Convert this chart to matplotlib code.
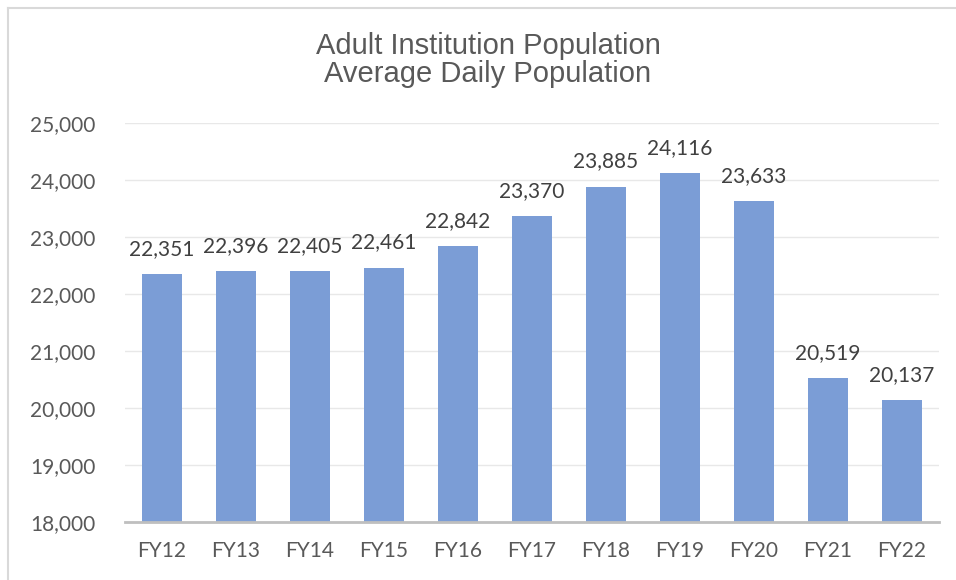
import matplotlib
matplotlib.use("Agg")
import matplotlib.pyplot as plt
from matplotlib.lines import Line2D
from matplotlib.ticker import FuncFormatter

categories = ["FY12", "FY13", "FY14", "FY15", "FY16", "FY17", "FY18", "FY19", "FY20", "FY21", "FY22"]
values = [22351, 22396, 22405, 22461, 22842, 23370, 23885, 24116, 23633, 20519, 20137]
yticks = [18000, 19000, 20000, 21000, 22000, 23000, 24000, 25000]
title = "Adult Institution Population\nAverage Daily Population"

bar_color = "#7B9DD6"
text_color = "#595959"
label_color = "#404040"

fig = plt.figure(figsize=(9.56, 5.8), dpi=100)
ax = fig.add_axes([125/956, 1-522/580, (939-125)/956, (522-123)/580])

x = list(range(len(categories)))
ax.bar(x, values, width=0.55, color=bar_color, zorder=2)
ax.set_xlim(-0.5, len(categories)-0.5)
ax.set_ylim(18000, 25000)
ax.set_yticks(yticks)
ax.yaxis.set_major_formatter(FuncFormatter(lambda v, p: f"{int(v):,}"))
ax.set_xticks(x)
ax.set_xticklabels(categories)

for spine in ["top", "right", "left"]:
    ax.spines[spine].set_visible(False)
ax.spines["bottom"].set_color("#BFBFBF")
ax.spines["bottom"].set_linewidth(2)
ax.spines["bottom"].set_zorder(3)
ax.grid(axis="y", color="#E8E8E8", linewidth=1, zorder=0)
ax.tick_params(axis="both", length=0, labelsize=15, labelcolor=text_color)
ax.tick_params(axis="y", pad=21)
ax.tick_params(axis="x", pad=14)
for lab in ax.get_xticklabels() + ax.get_yticklabels():
    lab.set_fontfamily("Lato")

for xi, v in zip(x, values):
    ax.annotate(f"{v:,}", (xi, v), xytext=(0, 11), textcoords="offset points",
                ha="center", va="bottom", fontsize=15, color=label_color, family="Lato")

fig.text(488/956, 1-60/580, title, ha="center", va="center", fontsize=21,
         color=text_color, family="Liberation Sans", linespacing=1.0)

# outer border (left and top visible)
fig.add_artist(Line2D([8/956, 8/956], [0, 1-8/580], transform=fig.transFigure, color="#D9D9D9", linewidth=1.5))
fig.add_artist(Line2D([8/956, 1], [1-8/580, 1-8/580], transform=fig.transFigure, color="#D9D9D9", linewidth=1.5))

fig.savefig("out.png", dpi=100)
